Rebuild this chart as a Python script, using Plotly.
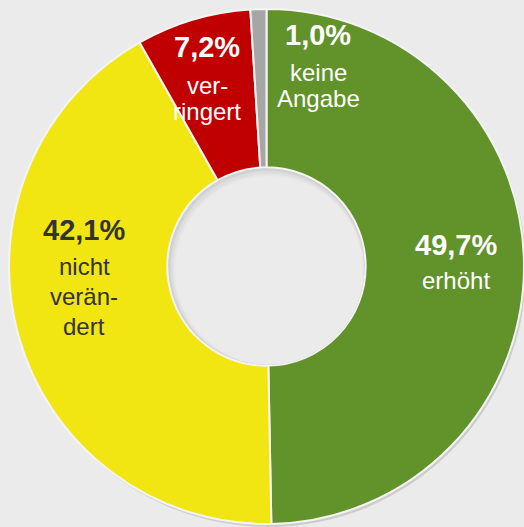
import plotly.graph_objects as go

# Data
categories = ["erhöht", "nicht verändert", "verringert", "keine Angabe"]
values = [49.7, 42.1, 7.2, 1.0]
label_lines = [["erhöht"], ["nicht", "verän-", "dert"], ["ver-", "ringert"], ["keine", "Angabe"]]
colors = ["#62922A", "#F2E612", "#C00000", "#A6A6A6"]
text_colors = ["#FFFFFF", "#333333", "#FFFFFF", "#FFFFFF"]

W, H = 524, 527
L, T, R, B = 9, 8, 0, 2
PW, PH = W - L - R, H - T - B
FONT = "Liberation Sans, Arial, sans-serif"
HOLE = 0.385


def px(x):
    return (x - L) / PW


def py(y):
    return 1 - (y - T) / PH


def circle(cx, cy, r, fill, layer):
    return dict(
        type="circle", xref="paper", yref="paper", layer=layer,
        x0=px(cx - r), x1=px(cx + r), y0=py(cy + r), y1=py(cy - r),
        fillcolor=fill, line=dict(width=0),
    )


fig = go.Figure()
fig.add_trace(go.Pie(
    labels=categories,
    values=values,
    sort=False,
    direction="clockwise",
    rotation=0,
    hole=HOLE,
    marker=dict(colors=colors, line=dict(color="#F4F4F4", width=2)),
    textinfo="none",
    hoverinfo="label+percent",
    showlegend=False,
))

# label placement (pixel centres): percent line y, first label line y, line step
placements = [
    (456, 245, 280, 30),
    (84, 230, 266, 30),
    (207, 47, 85, 26),
    (318, 35, 72, 26),
]

annotations = []
for i, (cx, y0, y1, step) in enumerate(placements):
    pct = f"{values[i]:.1f}".replace(".", ",") + "%"
    annotations.append(dict(
        x=px(cx), y=py(y0), xref="paper", yref="paper", showarrow=False,
        text=f"<b>{pct}</b>", xanchor="center", yanchor="middle",
        font=dict(family=FONT, size=29, color=text_colors[i]),
    ))
    for j, line in enumerate(label_lines[i]):
        annotations.append(dict(
            x=px(cx), y=py(y1 + j * step), xref="paper", yref="paper", showarrow=False,
            text=line, xanchor="center", yanchor="middle",
            font=dict(family=FONT, size=24, color=text_colors[i]),
        ))

# shadows: soft drop shadow under the ring, inner shadow in the hole
cx0, cy0, r0 = L + PW / 2, T + PH / 2, min(PW, PH) / 2
rh = r0 * HOLE - 1.2
shapes = [
    circle(cx0 + 2, cy0 + 3, r0, "rgba(0,0,0,0.13)", "below"),
    circle(cx0, cy0, rh, "#D2D2D2", "above"),
    circle(cx0 + 1, cy0 + 1.5, rh - 1, "#DEDEDE", "above"),
    circle(cx0 + 2, cy0 + 3, rh - 2.5, "#E6E6E6", "above"),
    circle(cx0 + 2.5, cy0 + 3.5, rh - 4, "#EBEBEB", "above"),
]

fig.update_layout(
    width=W, height=H,
    margin=dict(l=L, r=R, t=T, b=B),
    paper_bgcolor="#EBEBEB",
    plot_bgcolor="#EBEBEB",
    annotations=annotations,
    shapes=shapes,
)

fig.write_html(
    "out.html",
    config={"displayModeBar": False},
    post_script="document.body.style.margin='0';document.body.style.background='#EBEBEB';",
)
